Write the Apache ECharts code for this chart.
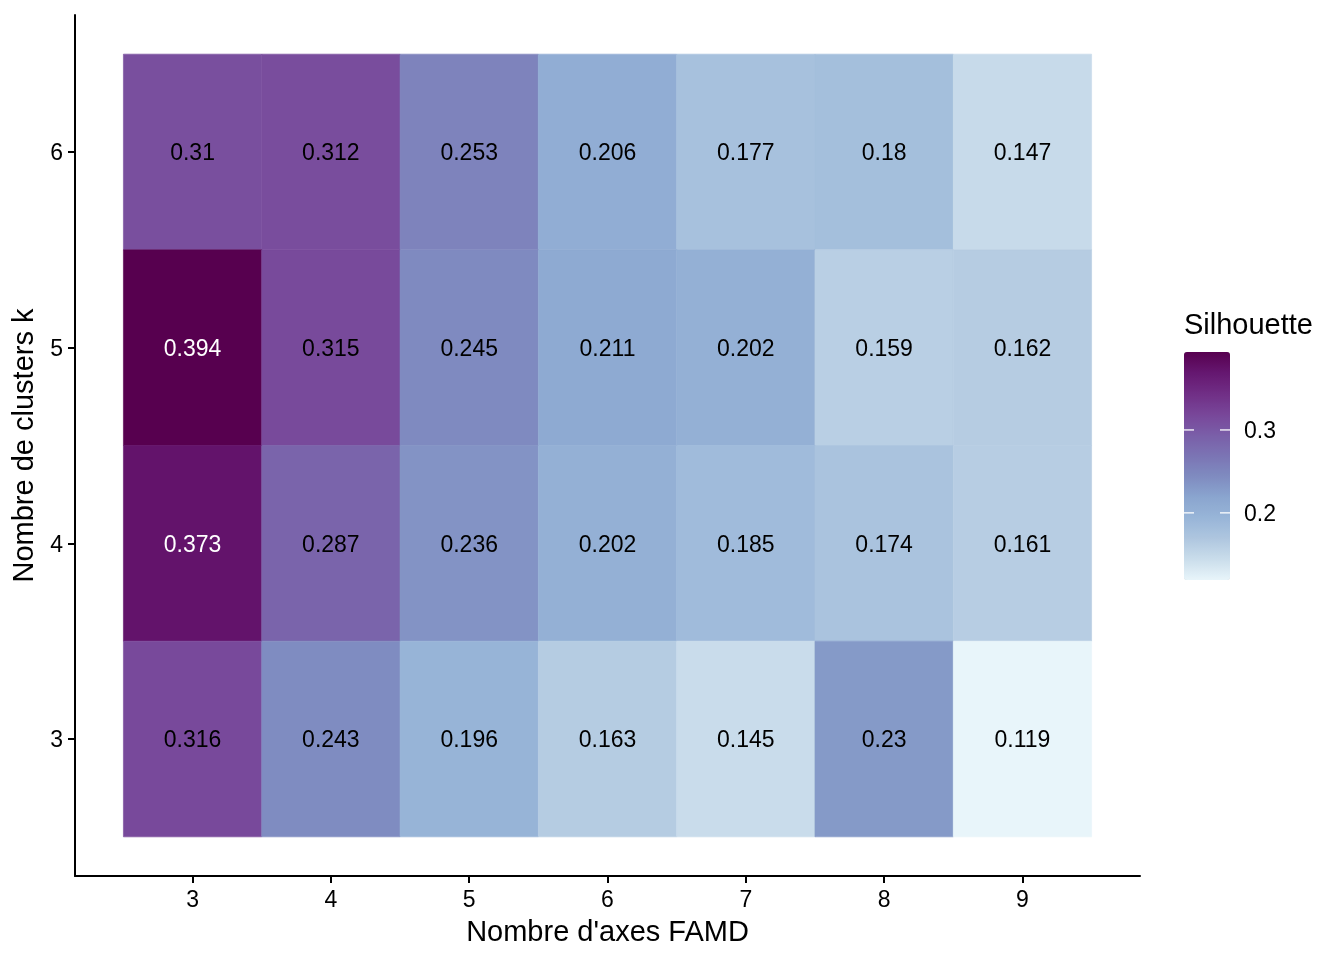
<!DOCTYPE html>
<html>
<head>
<meta charset="utf-8">
<script src="https://cdn.jsdelivr.net/npm/echarts@6/dist/echarts.min.js"></script>
<style>
html,body{margin:0;padding:0;background:#fff;}
#chart{width:1344px;height:960px;}
</style>
</head>
<body>
<div id="chart"></div>
<script>
// ---- data ----
const axesFAMD = [3, 4, 5, 6, 7, 8, 9];          // x categories
const clustersK = [6, 5, 4, 3];                  // y categories
const silK6 = [0.31, 0.312, 0.253, 0.206, 0.177, 0.18, 0.147];
const silK5 = [0.394, 0.315, 0.245, 0.211, 0.202, 0.159, 0.162];
const silK4 = [0.373, 0.287, 0.236, 0.202, 0.185, 0.174, 0.161];
const silK3 = [0.316, 0.243, 0.196, 0.163, 0.145, 0.23, 0.119];
const legendTicks = [0.2, 0.3];

const rowsByK = {6: silK6, 5: silK5, 4: silK4, 3: silK3};
const cells = [];
clustersK.forEach(k => {
  rowsByK[k].forEach((v, i) => cells.push([axesFAMD[i], k, v]));
});
const allVals = cells.map(c => c[2]);
const vMin = Math.min(...allVals), vMax = Math.max(...allVals);

const FONT = '"Liberation Sans", Arial, Helvetica, sans-serif';
const palette = ['#E8F5FA', '#CADDEB', '#AEC6DF', '#98B5D8', '#8AA5CF', '#7F8BC0',
                 '#7B74B4', '#7A5EA8', '#784699', '#702E85', '#651770', '#57004F'];

const shiftedRich = {t: {fontFamily: FONT, fontSize: 23, color: '#000', padding: [4, 0, 0, 0]}};

const chart = echarts.init(document.getElementById('chart'), null, {renderer: 'canvas'});

const option = {
  backgroundColor: '#fff',
  animation: false,
  grid: [
    {left: 75, right: 204, top: 15, bottom: 84, containLabel: false},
    {left: 1184, top: 352, width: 46, height: 228, containLabel: false}
  ],
  xAxis: [
    {
      type: 'value', gridIndex: 0, min: 2.15, max: 9.85,
      name: "Nombre d'axes FAMD", nameLocation: 'middle', nameGap: 42,
      nameTextStyle: {fontFamily: FONT, fontSize: 29, color: '#000'},
      axisLine: {onZero: false, lineStyle: {color: '#000', width: 2}},
      axisTick: {length: 7, lineStyle: {color: '#000', width: 2}, customValues: axesFAMD},
      axisLabel: {customValues: axesFAMD, fontFamily: FONT, fontSize: 23, color: '#000', margin: 13},
      splitLine: {show: false}
    },
    {type: 'value', gridIndex: 1, min: 0, max: 1, show: false}
  ],
  yAxis: [
    {
      type: 'value', gridIndex: 0, min: 2.3, max: 6.7,
      name: 'Nombre de clusters k', nameLocation: 'middle', nameGap: 33,
      nameTextStyle: {fontFamily: FONT, fontSize: 29, color: '#000'},
      axisLine: {show: true, onZero: false, lineStyle: {color: '#000', width: 2}},
      axisTick: {show: true, length: 7, lineStyle: {color: '#000', width: 2}, customValues: clustersK},
      axisLabel: {customValues: clustersK, margin: 12,
                  formatter: v => '{t|' + v + '}', rich: shiftedRich},
      splitLine: {show: false}
    },
    {
      type: 'value', gridIndex: 1, position: 'right', min: vMin, max: vMax,
      axisLine: {show: false},
      axisTick: {show: false},
      axisLabel: {customValues: legendTicks, margin: 14,
                  formatter: v => '{t|' + Number(v).toFixed(1) + '}', rich: shiftedRich},
      splitLine: {show: false}
    }
  ],
  visualMap: {
    type: 'continuous', min: vMin, max: vMax, calculable: false, hoverLink: false,
    seriesIndex: 0, dimension: 2, orient: 'vertical',
    left: 1184, top: 352, itemWidth: 46, itemHeight: 228, padding: 0,
    text: null, showLabel: false,
    inRange: {color: palette}
  },
  graphic: [
    {type: 'text', left: 1184, top: 311, z: 20,
     style: {text: 'Silhouette', font: '29px ' + FONT, fill: '#000'}}
  ],
  series: [{
    type: 'custom',
    coordinateSystem: 'cartesian2d',
    xAxisIndex: 0, yAxisIndex: 0,
    encode: {x: 0, y: 1},
    data: cells,
    renderItem: function (params, api) {
      const x = api.value(0), y = api.value(1), v = api.value(2);
      const p0 = api.coord([x - 0.5, y + 0.5]);
      const p1 = api.coord([x + 0.5, y - 0.5]);
      const col = api.visual('color');
      return {
        type: 'group',
        children: [
          {type: 'rect', shape: {x: p0[0], y: p0[1], width: p1[0] - p0[0], height: p1[1] - p0[1]},
           style: {fill: col, stroke: col, lineWidth: 0.6}},
          {type: 'text', z2: 10,
           style: {text: String(v), x: (p0[0] + p1[0]) / 2, y: (p0[1] + p1[1]) / 2 + 2,
                   align: 'center', verticalAlign: 'middle',
                   fill: v > 0.35 ? '#ffffff' : '#000000', font: '23px ' + FONT}}
        ]
      };
    }
  }, {
    // colourbar tick marks (white, inside both edges)
    type: 'custom',
    coordinateSystem: 'cartesian2d',
    xAxisIndex: 1, yAxisIndex: 1,
    zlevel: 1,
    encode: {y: 0},
    data: legendTicks.map(v => [v]),
    renderItem: function (params, api) {
      const v = api.value(0);
      const a = api.coord([0, v]);
      const b = api.coord([1, v]);
      const st = {stroke: 'rgba(255,255,255,0.85)', lineWidth: 1.5};
      return {
        type: 'group',
        children: [
          {type: 'line', shape: {x1: a[0], y1: a[1], x2: a[0] + 10, y2: a[1]}, style: st},
          {type: 'line', shape: {x1: b[0] - 10, y1: b[1], x2: b[0], y2: b[1]}, style: st}
        ]
      };
    }
  }]
};
chart.setOption(option);
</script>
</body>
</html>
